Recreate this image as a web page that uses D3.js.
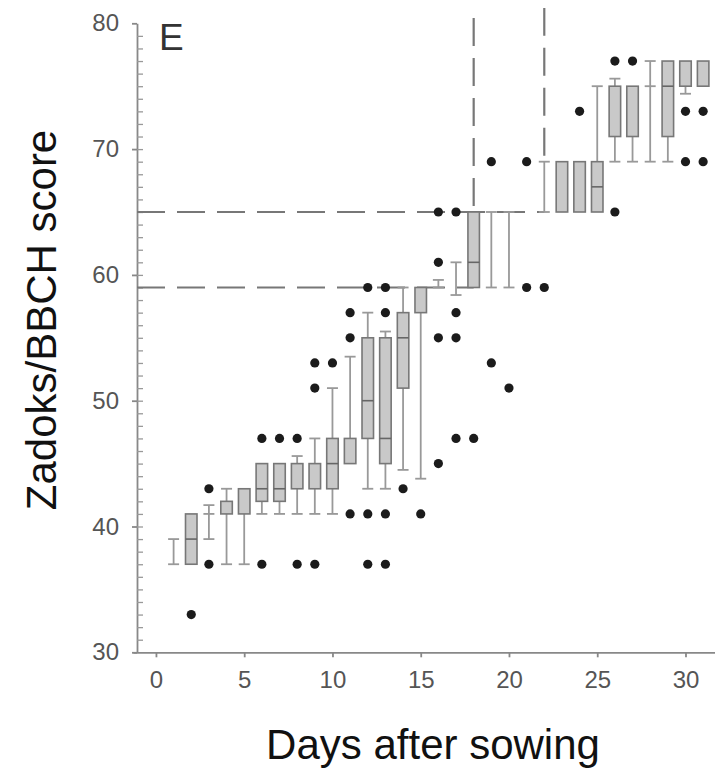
<!DOCTYPE html>
<html>
<head>
<meta charset="utf-8">
<script src="https://cdn.jsdelivr.net/npm/d3@7"></script>
<style>
    body { margin: 0; background: #fff; }
    svg { display: block; font-family: 'Liberation Sans', Arial, sans-serif; }
    .tick text { fill: #555; }
</style>
</head>
<body>
<div id="chartDiv"></div>
<script>
// Days after sowing, one box per day
const days = [1, 2, 3, 4, 5, 6, 7, 8, 9, 10, 11, 12, 13, 14, 15, 16,
    17, 18, 19, 20, 21, 22, 23, 24, 25, 26, 27, 28, 29, 30, 31];
const whiskerLow = [37, 37, 39, 37, 37, 41, 41, 41, 41, 41, 45, 43, 43, 44.5, 43.8, 59,
    58.4, 59, 59, 59, 65, 65, 65, 65, 65, 69, 69, 69, 69, 74.4, 75];
const boxLow = [null, 37, 41, 41, 41, 42, 42, 43, 43, 43, 45, 47, 45, 51, 57, null,
    null, 59, null, null, null, null, 65, 65, 65, 71, 71, 75, 71, 75, 75];
const medians = [null, 39, null, null, null, 43, 43, null, null, 45, null, 50, 47, 55, null, null,
    null, 61, null, null, null, null, null, null, 67, null, null, null, 75, null, null];
const boxHigh = [null, 41, 41, 42, 43, 45, 45, 45, 45, 47, 47, 55, 55, 57, 59, null,
    null, 65, null, null, null, null, 69, 69, 69, 75, 75, 75, 77, 77, 77];
const whiskerHigh = [39, 41, 41.7, 43, 43, 45, 45, 45.6, 47, 51, 53.5, 57, 55.5, 59, 59, 59.6,
    61, 65, 65, 65, 65, 69, 69, 69, 75, 75.6, 75, 77, 77, 77, 77];
const outliers = [[], [33], [43, 37], [], [], [47, 37], [47], [47, 37], [53, 51, 37], [53],
    [57, 55, 41], [59, 41, 37], [59, 57, 41, 37], [43], [41], [65, 61, 55, 45],
    [65, 57, 55, 47], [47], [69, 53], [51], [69, 59], [59], [], [73], [], [77, 65],
    [77], [], [], [73, 69], [73, 69]];

const yTicks = [30, 40, 50, 60, 70, 80];
const xTicks = [0, 5, 10, 15, 20, 25, 30];
const thresholdScores = [59, 65];   // horizontal dashed guides
const thresholdDays = [18, 22];     // vertical dashed guides
const thresholdTops = [65, 69];     // where vertical guides stop

const width = 715, height = 770;
const svg = d3.select('#chartDiv').append('svg')
    .attr('width', width)
    .attr('height', height);

const xScale = d3.scaleLinear().domain([-1.3, 31.7]).range([133, 715.5]);
const yScale = d3.scaleLinear().domain([30, 80]).range([652.3, 23.3]);
const axisX = 137;

const data = days.map((d, i) => ({
    day: d, lo: whiskerLow[i], q1: boxLow[i], med: medians[i],
    q3: boxHigh[i], hi: whiskerHigh[i], out: outliers[i]
}));

//Axes
svg.append('g')
    .attr('transform', `translate(0, ${yScale(30)})`)
    .call(d3.axisBottom(xScale).tickValues(xTicks).tickSize(5).tickSizeOuter(0).tickPadding(14))
    .call(g => g.selectAll('path, line').attr('stroke', '#888').attr('stroke-width', 1.8))
    .call(g => g.selectAll('text').attr('font-size', 24));

svg.append('g')
    .attr('transform', `translate(${axisX}, 0)`)
    .call(d3.axisLeft(yScale).tickValues(yTicks).tickSize(5).tickSizeOuter(0).tickPadding(13))
    .call(g => g.selectAll('path, line').attr('stroke', '#888').attr('stroke-width', 1.8))
    .call(g => g.selectAll('text').attr('font-size', 24));

svg.append('g')
    .attr('transform', `translate(${axisX}, 0)`)
    .call(d3.axisRight(yScale).tickValues(d3.range(31, 80)).tickSize(6).tickFormat(''))
    .call(g => g.select('.domain').remove())
    .call(g => g.selectAll('line').attr('stroke', '#999').attr('stroke-width', 1.3));

//Dashed guides
const dash = '28,12';
svg.append('g').selectAll('line')
    .data(thresholdScores)
    .join('line')
    .attr('x1', axisX)
    .attr('x2', (d, i) => xScale(thresholdDays[i]))
    .attr('y1', d => yScale(d))
    .attr('y2', d => yScale(d))
    .attr('stroke', '#777')
    .attr('stroke-width', 2)
    .attr('stroke-dasharray', dash);

svg.append('g').selectAll('line')
    .data(thresholdDays)
    .join('line')
    .attr('x1', d => xScale(d))
    .attr('x2', d => xScale(d))
    .attr('y1', (d, i) => yScale(thresholdTops[i]) - 6)
    .attr('y2', 8)
    .attr('stroke', '#777')
    .attr('stroke-width', 2.2)
    .attr('stroke-dasharray', dash);

//Boxes
const boxW = 11.5, capW = 11;
const boxes = svg.append('g').selectAll('g')
    .data(data)
    .join('g')
    .attr('transform', d => `translate(${xScale(d.day)}, 0)`);

boxes.each(function (d) {
    const g = d3.select(this);
    const top = d.q3 === null ? d.hi : d.q3;
    const bottom = d.q1 === null ? d.lo : d.q1;
    const stems = [];
    if (d.q1 === null) {
        if (d.hi > d.lo) stems.push([d.lo, d.hi]);
    } else {
        if (d.hi > top) stems.push([top, d.hi]);
        if (d.lo < bottom) stems.push([d.lo, bottom]);
    }
    stems.forEach(s => {
        g.append('line')
            .attr('x1', 0).attr('x2', 0)
            .attr('y1', yScale(s[0])).attr('y2', yScale(s[1]))
            .attr('stroke', '#999').attr('stroke-width', 1.8);
    });
    const caps = [];
    if (d.q1 === null) {
        if (d.hi > d.lo) caps.push(d.lo, d.hi);
    } else {
        if (d.hi > top) caps.push(d.hi);
        if (d.lo < bottom) caps.push(d.lo);
    }
    caps.forEach(c => {
        g.append('line')
            .attr('x1', -capW / 2).attr('x2', capW / 2)
            .attr('y1', yScale(c)).attr('y2', yScale(c))
            .attr('stroke', '#999').attr('stroke-width', 1.8);
    });
    if (d.q1 !== null) {
        if (d.q3 > d.q1) {
            g.append('rect')
                .attr('x', -boxW / 2)
                .attr('width', boxW)
                .attr('y', yScale(d.q3))
                .attr('height', yScale(d.q1) - yScale(d.q3))
                .attr('fill', '#c9c9c9')
                .attr('stroke', '#777')
                .attr('stroke-width', 1.6);
        } else {
            g.append('line')
                .attr('x1', -capW / 2).attr('x2', capW / 2)
                .attr('y1', yScale(d.q1)).attr('y2', yScale(d.q1))
                .attr('stroke', '#999').attr('stroke-width', 1.8);
        }
        if (d.med !== null) {
            g.append('line')
                .attr('x1', -boxW / 2).attr('x2', boxW / 2)
                .attr('y1', yScale(d.med)).attr('y2', yScale(d.med))
                .attr('stroke', '#666').attr('stroke-width', 1.6);
        }
    }
    g.selectAll('circle')
        .data(d.out)
        .join('circle')
        .attr('cx', 0)
        .attr('cy', v => yScale(v))
        .attr('r', 4.6)
        .attr('fill', '#1b1b1b');
});

//Labels
svg.append('text')
    .text('E')
    .attr('x', 159)
    .attr('y', 50)
    .attr('font-size', 37)
    .attr('fill', '#333');

svg.append('text')
    .text('Zadoks/BBCH score')
    .attr('text-anchor', 'middle')
    .attr('font-size', 42)
    .attr('fill', '#111')
    .attr('transform', 'translate(56, 320) rotate(-90)');

svg.append('text')
    .text('Days after sowing')
    .attr('text-anchor', 'middle')
    .attr('x', 433)
    .attr('y', 759)
    .attr('font-size', 42)
    .attr('fill', '#111');
</script>
</body>
</html>
